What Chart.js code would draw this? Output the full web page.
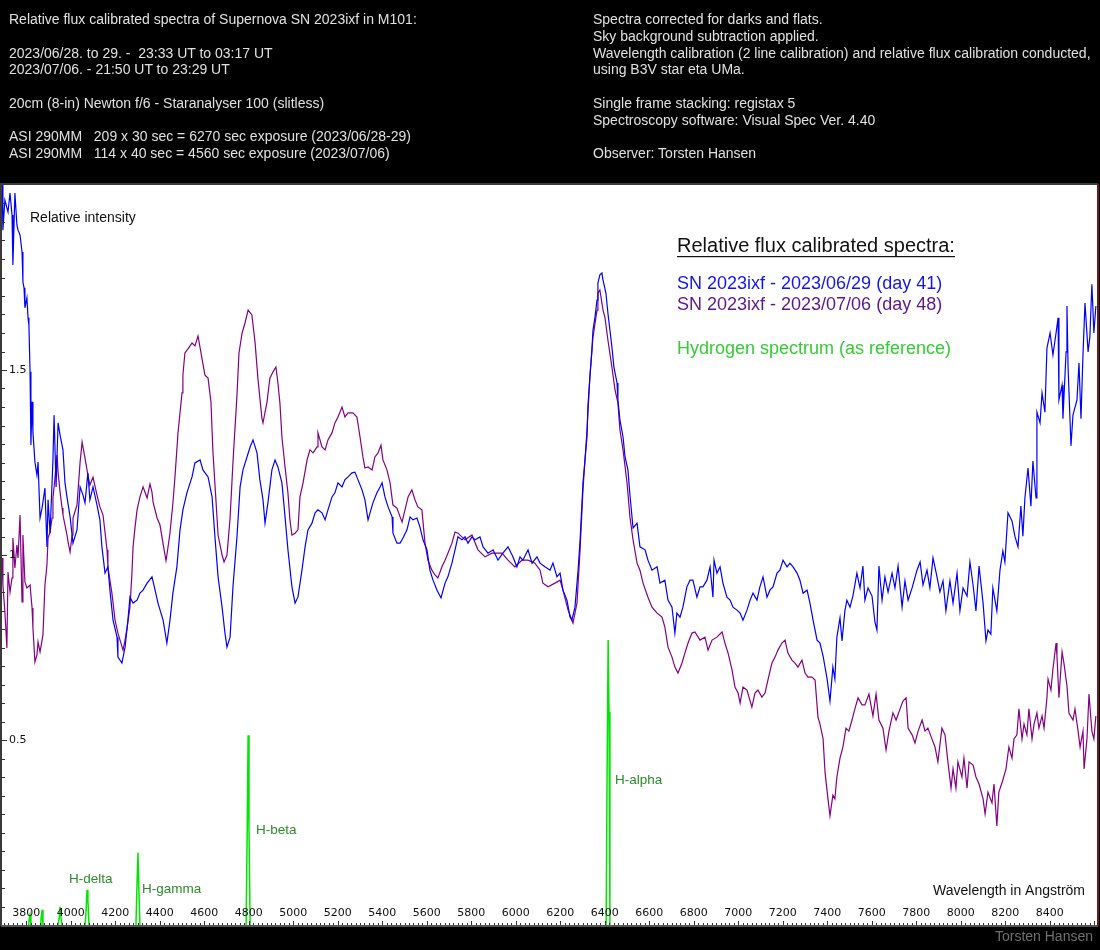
<!DOCTYPE html>
<html>
<head>
<meta charset="utf-8">
<title>SN 2023ixf - relative flux calibrated spectra</title>
<script src="https://cdn.jsdelivr.net/npm/chart.js@4.4.0/dist/chart.umd.min.js"></script>
<style>
  body { margin: 0; background: #000; }
  #wrap { position: relative; width: 1100px; height: 950px; overflow: hidden; }
  canvas { position: absolute; left: 0; top: 0; }
  .head {
    position: absolute; top: 11px;
    color: #e0e0e0;
    font: 14px "Liberation Sans", Arial, sans-serif;
    line-height: 16.75px;
    white-space: pre;
  }
</style>
</head>
<body>
<div id="wrap">
  <canvas id="spectra" width="1100" height="950"></canvas>
  <div class="head" style="left:9px">Relative flux calibrated spectra of Supernova SN 2023ixf in M101:

2023/06/28. to 29. -  23:33 UT to 03:17 UT
2023/07/06. - 21:50 UT to 23:29 UT

20cm (8-in) Newton f/6 - Staranalyser 100 (slitless)

ASI 290MM   209 x 30 sec = 6270 sec exposure (2023/06/28-29)
ASI 290MM   114 x 40 sec = 4560 sec exposure (2023/07/06)</div>
  <div class="head" style="left:593px">Spectra corrected for darks and flats.
Sky background subtraction applied.
Wavelength calibration (2 line calibration) and relative flux calibration conducted,
using B3V star eta UMa.

Single frame stacking: registax 5
Spectroscopy software: Visual Spec Ver. 4.40

Observer: Torsten Hansen</div>
</div>
<script>
// Wavelength (Angström) / relative intensity
const day41 = [
  [3691,2.03],[3695,1.878],[3704,1.959],[3718,1.927],[3727,1.978],[3736,1.919],[3740,1.784],[3749,1.978],
  [3758,1.892],[3763,1.878],[3772,1.865],[3781,1.819],[3785,1.738],[3790,1.722],[3794,1.668],[3803,1.695],
  [3808,1.641],[3812,1.622],[3817,1.495],[3821,1.297],[3826,1.414],[3830,1.332],[3839,1.251],[3848,1.216],
  [3853,1.251],[3862,1.100],[3871,1.127],[3884,1.181],[3893,1.022],[3898,1.149],[3907,1.059],[3920,1.257],
  [3925,1.378],[3934,1.184],[3943,1.357],[3952,1.324],[3965,1.284],[3974,1.195],[3983,1.157],[3997,1.103],
  [4010,1.032],[4028,1.068],[4042,1.184],[4055,1.162],[4064,1.141],[4077,1.222],[4086,1.149],[4100,1.184],
  [4118,1.135],[4131,1.095],[4140,1.022],[4154,0.951],[4167,0.968],[4176,0.905],[4190,0.824],[4208,0.778],
  [4212,0.724],[4230,0.708],[4244,0.751],[4257,0.824],[4266,0.886],[4280,0.870],[4298,0.878],[4311,0.897],
  [4325,0.905],[4343,0.924],[4365,0.941],[4379,0.905],[4392,0.870],[4415,0.824],[4432,0.762],[4446,0.824],
  [4459,0.897],[4477,0.968],[4491,1.068],[4504,1.122],[4522,1.168],[4545,1.211],[4558,1.249],[4581,1.257],
  [4594,1.230],[4617,1.211],[4635,1.157],[4648,1.049],[4662,0.941],[4680,0.859],[4693,0.789],[4702,0.751],
  [4716,0.778],[4729,0.914],[4747,1.049],[4761,1.184],[4774,1.230],[4792,1.265],[4806,1.292],[4819,1.311],
  [4837,1.276],[4850,1.203],[4864,1.149],[4873,1.086],[4886,1.141],[4904,1.230],[4918,1.257],[4931,1.238],
  [4949,1.195],[4963,1.103],[4976,1.014],[4994,0.914],[5008,0.870],[5021,0.886],[5039,0.959],[5053,1.022],
  [5066,1.068],[5084,1.086],[5098,1.114],[5111,1.122],[5129,1.114],[5143,1.095],[5156,1.122],[5174,1.157],
  [5187,1.168],[5201,1.195],[5219,1.184],[5232,1.203],[5246,1.211],[5264,1.222],[5277,1.224],[5291,1.203],
  [5309,1.176],[5322,1.149],[5336,1.095],[5345,1.114],[5358,1.141],[5376,1.168],[5390,1.184],[5399,1.195],
  [5412,1.157],[5426,1.130],[5444,1.103],[5448,1.059],[5466,1.032],[5480,1.032],[5493,1.046],[5511,1.068],
  [5525,1.103],[5538,1.095],[5556,1.100],[5569,1.076],[5583,1.041],[5601,1.014],[5614,0.959],[5628,0.932],
  [5646,0.905],[5664,0.884],[5682,0.924],[5695,0.941],[5713,0.978],[5727,1.014],[5740,1.049],[5758,1.041],
  [5772,1.049],[5785,1.032],[5803,1.049],[5817,1.041],[5839,1.049],[5853,1.022],[5875,1.005],[5898,1.014],
  [5920,0.986],[5942,1.005],[5965,1.022],[5987,0.995],[6005,0.968],[6019,0.995],[6032,0.986],[6055,1.014],
  [6073,0.978],[6095,0.995],[6109,0.978],[6131,0.968],[6154,0.959],[6167,0.978],[6185,0.941],[6199,0.951],
  [6212,0.905],[6230,0.878],[6244,0.832],[6252,0.824],[6266,0.859],[6280,0.959],[6289,1.041],[6302,1.195],
  [6320,1.319],[6324,1.400],[6333,1.481],[6342,1.554],[6347,1.608],[6356,1.643],[6365,1.689],[6369,1.735],
  [6378,1.757],[6387,1.762],[6392,1.743],[6405,1.708],[6414,1.654],[6423,1.608],[6432,1.562],[6441,1.508],
  [6455,1.465],[6459,1.419],[6468,1.365],[6482,1.319],[6491,1.265],[6504,1.230],[6513,1.162],[6527,1.073],
  [6545,1.086],[6558,1.022],[6581,1.014],[6594,0.986],[6612,0.959],[6635,0.968],[6648,0.924],[6670,0.932],
  [6684,0.878],[6702,0.859],[6715,0.789],[6724,0.843],[6738,0.832],[6751,0.859],[6769,0.914],[6783,0.932],
  [6796,0.932],[6814,0.886],[6828,0.914],[6841,0.914],[6859,0.932],[6873,0.968],[6886,0.886],[6891,0.986],
  [6904,0.951],[6918,0.968],[6931,0.924],[6949,0.886],[6963,0.878],[6976,0.859],[6994,0.851],[7008,0.843],
  [7021,0.824],[7039,0.851],[7053,0.878],[7066,0.897],[7084,0.878],[7097,0.914],[7111,0.941],[7129,0.886],
  [7142,0.905],[7156,0.914],[7174,0.951],[7187,0.959],[7201,0.986],[7219,0.968],[7232,0.978],[7246,0.968],
  [7264,0.951],[7277,0.932],[7291,0.897],[7309,0.905],[7322,0.870],[7336,0.824],[7354,0.770],[7367,0.762],
  [7381,0.727],[7399,0.665],[7412,0.605],[7425,0.697],[7434,0.665],[7443,0.778],[7457,0.830],[7466,0.768],
  [7479,0.849],[7488,0.878],[7502,0.859],[7515,0.889],[7533,0.951],[7547,0.911],[7560,0.970],[7569,0.878],
  [7583,0.911],[7601,0.889],[7614,0.819],[7623,0.797],[7632,0.970],[7646,0.878],[7659,0.941],[7673,0.900],
  [7691,0.951],[7704,0.911],[7718,0.970],[7736,0.859],[7749,0.930],[7763,0.878],[7781,0.911],[7803,0.959],
  [7817,0.981],[7830,0.919],[7848,0.959],[7861,0.911],[7875,0.992],[7893,0.941],[7906,0.900],[7920,0.930],
  [7933,0.849],[7951,0.930],[7965,0.870],[7983,0.951],[7996,0.849],[8010,0.911],[8028,0.889],[8041,0.981],
  [8055,0.919],[8068,0.849],[8082,0.970],[8100,0.870],[8113,0.768],[8122,0.797],[8135,0.786],[8144,0.911],
  [8162,0.849],[8176,0.959],[8189,1.011],[8198,0.981],[8212,1.114],[8230,1.092],[8243,1.051],[8257,1.022],
  [8270,1.132],[8279,1.051],[8288,1.154],[8302,1.235],[8315,1.132],[8324,1.254],[8338,1.154],[8342,1.386],
  [8356,1.357],[8365,1.438],[8378,1.386],[8387,1.559],[8401,1.600],[8414,1.541],[8428,1.600],[8437,1.641],
  [8441,1.419],[8455,1.459],[8459,1.368],[8473,1.549],[8477,1.673],[8482,1.508],[8495,1.295],[8504,1.378],
  [8522,1.419],[8531,1.519],[8540,1.368],[8549,1.541],[8558,1.681],[8572,1.549],[8580,1.589],[8589,1.732],
  [8598,1.600],[8607,1.673]
];

const day48 = [
  [3691,0.992],[3695,0.919],[3704,0.846],[3713,0.749],[3718,0.954],[3727,0.900],[3736,0.938],[3740,1.046],
  [3749,0.965],[3758,1.027],[3763,0.992],[3772,1.108],[3781,0.873],[3785,1.054],[3794,0.927],[3803,0.911],
  [3817,0.919],[3826,0.857],[3830,0.803],[3839,0.711],[3848,0.730],[3853,0.765],[3862,0.738],[3875,0.784],
  [3884,0.919],[3893,0.973],[3898,1.046],[3907,1.062],[3916,1.100],[3920,1.154],[3929,1.208],[3938,1.270],
  [3943,1.224],[3952,1.170],[3961,1.127],[3965,1.108],[3983,1.054],[3988,1.035],[3997,1.008],[4006,1.054],
  [4010,1.100],[4028,1.135],[4042,1.251],[4051,1.305],[4064,1.262],[4077,1.216],[4086,1.189],[4100,1.210],
  [4118,1.162],[4131,1.130],[4145,1.108],[4163,1.014],[4167,0.968],[4185,0.897],[4199,0.824],[4212,0.789],
  [4235,0.743],[4244,0.770],[4253,0.803],[4266,0.859],[4275,0.951],[4280,1.022],[4289,1.076],[4298,1.122],
  [4311,1.157],[4325,1.184],[4343,1.154],[4356,1.192],[4365,1.170],[4370,1.143],[4388,1.100],[4401,1.081],
  [4415,1.030],[4428,0.985],[4432,1.000],[4446,1.060],[4459,1.140],[4468,1.208],[4482,1.330],[4500,1.438],
  [4504,1.486],[4513,1.546],[4527,1.557],[4545,1.573],[4558,1.565],[4572,1.592],[4590,1.530],[4603,1.486],
  [4617,1.478],[4630,1.414],[4639,1.278],[4653,1.143],[4662,1.054],[4680,1.000],[4689,0.981],[4702,1.000],
  [4716,1.100],[4729,1.251],[4747,1.432],[4756,1.546],[4770,1.600],[4783,1.627],[4797,1.662],[4814,1.649],
  [4828,1.576],[4841,1.478],[4859,1.370],[4864,1.357],[4882,1.414],[4895,1.478],[4909,1.495],[4922,1.508],
  [4931,1.465],[4940,1.411],[4949,1.319],[4963,1.238],[4976,1.168],[4985,1.095],[4994,1.054],[5008,1.059],
  [5021,1.068],[5030,1.157],[5044,1.195],[5062,1.257],[5075,1.284],[5089,1.276],[5107,1.292],[5111,1.330],
  [5129,1.292],[5143,1.284],[5156,1.311],[5174,1.330],[5187,1.357],[5201,1.373],[5219,1.400],[5232,1.373],
  [5246,1.384],[5268,1.384],[5286,1.373],[5300,1.319],[5313,1.265],[5322,1.235],[5336,1.238],[5354,1.230],
  [5367,1.265],[5381,1.276],[5394,1.297],[5403,1.257],[5421,1.230],[5435,1.195],[5448,1.135],[5466,1.127],
  [5480,1.103],[5489,1.089],[5502,1.122],[5516,1.157],[5533,1.176],[5547,1.149],[5560,1.130],[5578,1.122],
  [5592,1.032],[5605,0.986],[5623,0.959],[5637,0.946],[5650,0.938],[5668,0.968],[5682,0.986],[5695,1.005],
  [5713,1.032],[5727,1.062],[5740,1.059],[5772,1.041],[5803,1.054],[5830,1.014],[5862,0.995],[5893,1.005],
  [5938,1.005],[5965,0.986],[5996,0.968],[6028,0.986],[6055,0.986],[6086,0.978],[6109,0.959],[6122,0.924],
  [6145,0.914],[6176,0.924],[6199,0.932],[6212,0.905],[6235,0.851],[6257,0.816],[6275,0.870],[6289,1.014],
  [6302,1.176],[6320,1.338],[6333,1.481],[6347,1.589],[6365,1.662],[6369,1.708],[6378,1.716],[6392,1.662],
  [6401,1.641],[6414,1.581],[6432,1.508],[6446,1.446],[6459,1.411],[6468,1.338],[6482,1.284],[6500,1.195],
  [6513,1.103],[6527,1.041],[6545,0.978],[6558,0.959],[6572,0.924],[6594,0.886],[6612,0.859],[6635,0.843],
  [6657,0.832],[6670,0.805],[6684,0.751],[6702,0.724],[6715,0.697],[6729,0.681],[6747,0.708],[6760,0.735],
  [6774,0.762],[6792,0.789],[6805,0.792],[6828,0.770],[6850,0.778],[6864,0.743],[6882,0.770],[6904,0.778],
  [6927,0.792],[6940,0.762],[6954,0.735],[6972,0.689],[6985,0.643],[6999,0.627],[7008,0.600],[7021,0.643],
  [7039,0.635],[7061,0.589],[7075,0.627],[7088,0.635],[7106,0.616],[7120,0.627],[7133,0.662],[7151,0.708],
  [7165,0.724],[7178,0.743],[7196,0.762],[7210,0.770],[7223,0.735],[7241,0.716],[7255,0.708],[7268,0.697],
  [7286,0.716],[7300,0.681],[7313,0.670],[7331,0.670],[7345,0.662],[7358,0.562],[7367,0.543],[7381,0.503],
  [7390,0.411],[7403,0.341],[7412,0.295],[7425,0.351],[7434,0.341],[7443,0.400],[7457,0.451],[7470,0.481],
  [7484,0.532],[7497,0.524],[7511,0.554],[7524,0.584],[7538,0.614],[7556,0.595],[7569,0.595],[7587,0.624],
  [7605,0.565],[7619,0.624],[7632,0.554],[7650,0.532],[7664,0.473],[7677,0.524],[7695,0.573],[7709,0.554],
  [7727,0.584],[7740,0.605],[7754,0.614],[7763,0.532],[7781,0.514],[7794,0.492],[7808,0.524],[7826,0.554],
  [7839,0.524],[7852,0.532],[7870,0.503],[7884,0.481],[7897,0.441],[7915,0.532],[7929,0.514],[7942,0.441],
  [7956,0.370],[7965,0.422],[7978,0.370],[7987,0.441],[8005,0.400],[8014,0.451],[8028,0.370],[8037,0.441],
  [8055,0.432],[8068,0.400],[8082,0.381],[8100,0.341],[8109,0.300],[8122,0.359],[8140,0.330],[8149,0.381],
  [8162,0.268],[8171,0.359],[8189,0.392],[8203,0.422],[8216,0.481],[8230,0.451],[8239,0.503],[8252,0.514],
  [8261,0.584],[8275,0.503],[8284,0.543],[8297,0.514],[8306,0.584],[8320,0.503],[8329,0.543],[8342,0.573],
  [8351,0.532],[8365,0.565],[8374,0.532],[8387,0.614],[8392,0.665],[8405,0.635],[8414,0.692],[8428,0.762],
  [8432,0.727],[8441,0.614],[8455,0.738],[8464,0.705],[8477,0.646],[8486,0.573],[8504,0.554],[8513,0.584],
  [8527,0.524],[8536,0.481],[8549,0.524],[8554,0.422],[8567,0.503],[8576,0.624],[8589,0.524],[8598,0.503],
  [8607,0.565]
];

// hydrogen reference lines (null = gap between lines)
const hydrogen = [
  [3808,0],[3812,0.012],[3817,0.027],[3821,0],[3822,null],
  [3862,0],[3866,0.015],[3871,0.041],[3875,0],[3876,null],
  [3943,0],[3948,0.02],[3952,0.049],[3957,0.015],[3961,0],[3962,null],
  [4064,0],[4069,0.04],[4073,0.095],[4077,0.068],[4082,0],[4083,null],
  [4293,0],[4297,0.095],[4302,0.195],[4306,0.095],[4311,0],[4312,null],
  [4788,0],[4793,0.257],[4797,0.513],[4801,0.257],[4806,0],[4807,null],
  [6406,0],[6410,0.38],[6415,0.77],[6419,0.576],[6423,0]
];

const hydrogenLabels = [
  ['H-delta', 3992, 0.124],
  ['H-gamma', 4320, 0.097],
  ['H-beta', 4832, 0.255],
  ['H-alpha', 6446, 0.392]
];

const xTickLabels = [3800, 4000, 4200, 4400, 4600, 4800, 5000, 5200, 5400, 5600, 5800, 6000,
  6200, 6400, 6600, 6800, 7000, 7200, 7400, 7600, 7800, 8000, 8200, 8400];
const yTickLabels = [0.5, 1, 1.5];

const legendLines = [
  ['SN 2023ixf - 2023/06/29 (day 41)', '#1414f0'],
  ['SN 2023ixf - 2023/07/06 (day 48)', '#5e1690'],
  ['Hydrogen spectrum (as reference)', '#33cc33']
];

const toPoints = (arr) => arr.map(([x, y]) => ({ x, y }));

const SANS = '"Liberation Sans", Arial, sans-serif';
const TICK_FONT = '11px "DejaVu Sans", Verdana, sans-serif';

/**
 * Draws the black surround, the white plot field, ticks and all the in-plot texts
 */
const framePlugin = {
  id: 'frame',
  beforeDraw(chart) {
    const { ctx, chartArea: a } = chart;
    ctx.save();
    ctx.fillStyle = '#000';
    ctx.fillRect(0, 0, chart.width, chart.height);
    ctx.fillStyle = '#fff';
    ctx.fillRect(a.left, a.top, a.right - a.left, a.bottom - a.top);
    ctx.restore();
  },
  afterDatasetsDraw(chart) {
    const { ctx, chartArea: a } = chart;
    const xs = chart.scales.x;
    const ys = chart.scales.y;
    ctx.save();

    // border
    ctx.strokeStyle = '#3a3a3a';
    ctx.lineWidth = 2;
    ctx.beginPath();
    ctx.moveTo(a.left - 1, a.bottom + 1);
    ctx.lineTo(a.left - 1, a.top - 1);
    ctx.lineTo(a.right + 1, a.top - 1);
    ctx.stroke();
    ctx.strokeStyle = '#555';
    ctx.beginPath();
    ctx.moveTo(a.left - 1, a.bottom + 1);
    ctx.lineTo(a.right + 1, a.bottom + 1);
    ctx.stroke();
    ctx.strokeStyle = '#6a1a1a';
    ctx.beginPath();
    ctx.moveTo(a.right + 1, a.top - 1);
    ctx.lineTo(a.right + 1, a.bottom + 1);
    ctx.stroke();

    // x ticks (minor every 20 A, major every 200 A)
    ctx.strokeStyle = '#333';
    ctx.lineWidth = 1;
    ctx.beginPath();
    for (let w = 3700; w <= 8600; w += 20) {
      const px = Math.round(xs.getPixelForValue(w)) + 0.5;
      const len = w % 200 === 0 ? 4 : 2;
      ctx.moveTo(px, a.bottom);
      ctx.lineTo(px, a.bottom - len);
    }
    // y ticks (every 0.05)
    for (let i = 1; i < 40; i++) {
      const v = i * 0.05;
      const py = Math.round(ys.getPixelForValue(v)) + 0.5;
      const len = i % 10 === 0 ? 5 : 3;
      ctx.moveTo(a.left, py);
      ctx.lineTo(a.left + len, py);
    }
    ctx.stroke();

    ctx.fillStyle = '#111';
    ctx.font = TICK_FONT;
    ctx.textBaseline = 'middle';
    ctx.textAlign = 'center';
    for (const w of xTickLabels) {
      ctx.fillText(String(w), xs.getPixelForValue(w), a.bottom - 12);
    }
    ctx.textAlign = 'left';
    for (const v of yTickLabels) {
      ctx.fillText(String(v), a.left + 7, ys.getPixelForValue(v));
    }

    // axis titles
    ctx.font = '14px ' + SANS;
    ctx.fillStyle = '#111';
    ctx.textAlign = 'left';
    ctx.fillText('Relative intensity', 30, 218);
    ctx.textAlign = 'right';
    ctx.fillText('Wavelength in Angström', 1085, 891);

    // hydrogen line labels
    ctx.textAlign = 'left';
    ctx.font = '13.5px ' + SANS;
    ctx.fillStyle = '#2a8c2a';
    for (const [txt, w, v] of hydrogenLabels) {
      ctx.fillText(txt, xs.getPixelForValue(w), ys.getPixelForValue(v));
    }

    // legend block
    ctx.font = '20px ' + SANS;
    ctx.fillStyle = '#111';
    const title = 'Relative flux calibrated spectra:';
    ctx.fillText(title, 677, 246);
    const tw = ctx.measureText(title).width;
    ctx.fillRect(677, 256, tw, 1.2);
    ctx.font = '18px ' + SANS;
    const legendY = [284, 305, 349];
    legendLines.forEach(([txt, col], i) => {
      ctx.fillStyle = col;
      ctx.fillText(txt, 677, legendY[i]);
    });

    // footer
    ctx.font = '14px ' + SANS;
    ctx.fillStyle = '#707070';
    ctx.textAlign = 'right';
    ctx.fillText('Torsten Hansen', 1093, 937);
    ctx.restore();
  }
};

Chart.defaults.font.family = SANS;

new Chart(document.getElementById('spectra'), {
  type: 'line',
  data: {
    datasets: [
      {
        label: 'SN 2023ixf - 2023/06/29 (day 41)',
        data: toPoints(day41),
        borderColor: '#0000ff',
        borderWidth: 1.2,
        pointRadius: 0,
        tension: 0,
        fill: false
      },
      {
        label: 'SN 2023ixf - 2023/07/06 (day 48)',
        data: toPoints(day48),
        borderColor: '#840084',
        borderWidth: 1.2,
        pointRadius: 0,
        tension: 0,
        fill: false
      },
      {
        label: 'Hydrogen spectrum (as reference)',
        data: toPoints(hydrogen),
        borderColor: '#00e600',
        borderWidth: 1.5,
        pointRadius: 0,
        tension: 0,
        spanGaps: false,
        fill: false
      }
    ]
  },
  options: {
    responsive: false,
    animation: false,
    events: [],
    layout: { padding: { left: 2, top: 185, right: 3, bottom: 25 } },
    plugins: {
      legend: { display: false },
      tooltip: { enabled: false },
      title: { display: false }
    },
    scales: {
      x: { type: 'linear', min: 3691, max: 8612, display: false },
      y: { type: 'linear', min: 0, max: 2, display: false }
    }
  },
  plugins: [framePlugin]
});
</script>
</body>
</html>
